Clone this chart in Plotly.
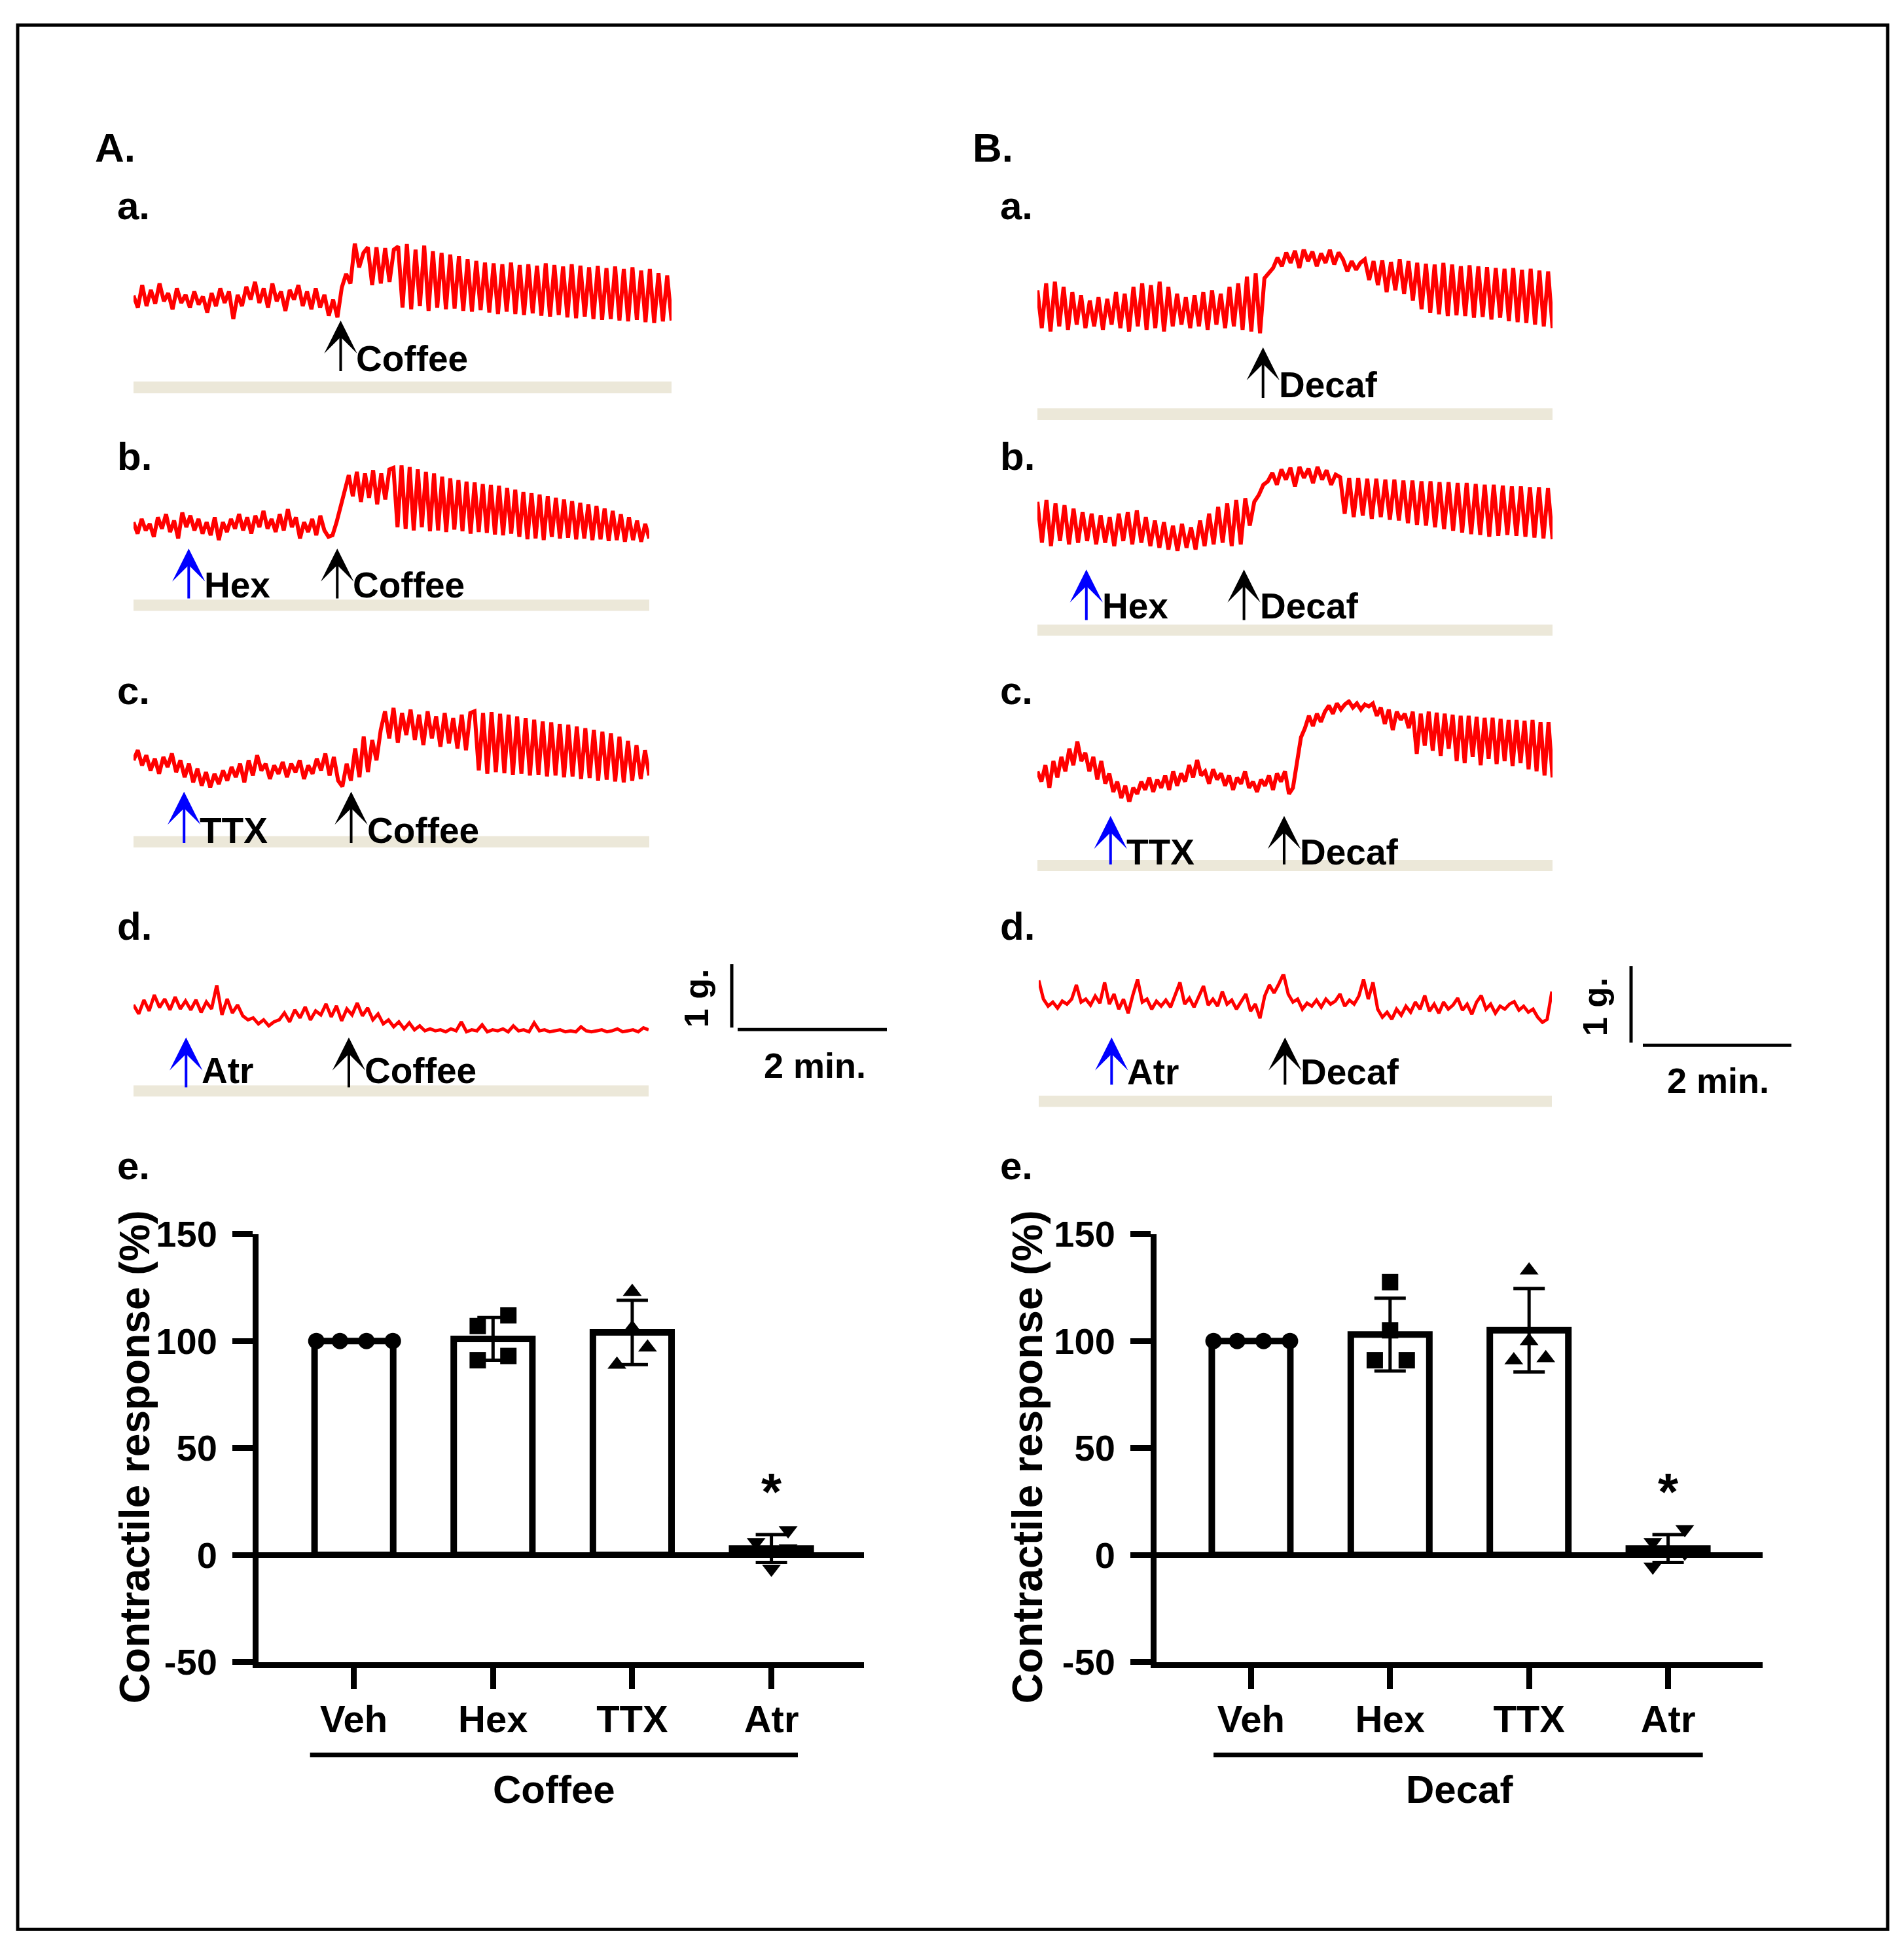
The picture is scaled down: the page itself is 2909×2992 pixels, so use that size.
import plotly.graph_objects as go

W, H = 2909, 2992          # browser window
PAD = 8                    # default body margin of the page
FW, FH = W - 2 * PAD, H - 2 * PAD
V_OFF, V_SCALE = 35.0, 0.9775   # vertical squeeze seen in the rendered page
FONT = 'Liberation Sans, Arial, sans-serif'
RED = '#FF0000'
BLUE = '#0000FF'
BEIGE = '#ECE8D9'

# Isometric force recordings, % of each panel's height, evenly sampled in time
coffee_ctrl = [35, 20, 48, 22, 42, 25, 50, 28, 38, 18, 44, 26, 36, 20, 40, 24, 34, 14, 38, 22,
               44, 26, 40, 6, 36, 22, 46, 30, 52, 26, 44, 20, 50, 28, 40, 16, 42, 30, 48, 22,
               40, 18, 44, 20, 36, 10, 30,
               8, 45, 62, 50, 100, 70, 88,
               95, 48, 95, 50, 94, 52, 92,
               96, 20, 99, 18, 92, 22, 97, 16, 90, 20, 88, 18, 86, 19, 84, 16, 80, 15, 78, 17,
               76, 14, 75, 12, 74, 15, 76, 12, 73, 11, 74, 13, 72, 10, 75, 9, 73, 11, 71, 8,
               74, 7, 72, 9, 70, 6, 72, 5, 69, 6, 71, 4, 68, 3, 70, 5, 66, 2, 68, 1, 63, 3, 60, 4]
coffee_hex = [30, 16, 34, 20, 28, 12, 36, 22, 40, 18, 32, 10, 42, 24, 38, 20, 34, 16, 30, 14,
              36, 8, 30, 18, 34, 22, 40, 20, 36, 16, 38, 24, 44, 22, 34, 18, 40, 20, 46, 24,
              36, 10, 30, 18, 34, 14, 38, 20, 12,
              14, 30, 48, 70,
              88, 62, 92, 55, 90, 60, 94, 52, 90, 58, 95,
              97, 24, 100, 22, 98, 20, 95, 24, 92, 19, 90, 20, 86, 18, 84, 21, 82, 19, 80, 16,
              79, 18, 77, 17, 76, 15, 75, 14, 72, 16, 70, 12, 67, 9, 66, 10, 64, 8, 62, 12,
              60, 10, 58, 11, 56, 9, 54, 10, 52, 8, 50, 9, 47, 7, 44, 8, 40, 6, 36, 8, 32, 6, 28, 10]
coffee_ttx = [34, 46, 28, 40, 22, 36, 18, 38, 26, 42, 20, 34, 14, 30, 8, 24, 4, 20, 2, 18,
              6, 22, 10, 26, 14, 30, 8, 34, 16, 40, 22, 30, 12, 28, 18, 32, 14, 30, 20, 34,
              12, 28, 18, 36, 22, 42, 16, 38, 10, 3,
              30, 10, 48, 14, 62, 20, 58, 34,
              70, 92, 60, 96, 55, 90, 64, 94, 58, 88, 52, 92, 60, 86, 50, 90, 54, 84, 48, 88, 46, 90,
              92, 22, 90, 18, 91, 20, 89, 19, 88, 17, 86, 18, 84, 16, 82, 17, 80, 15, 79, 16,
              77, 14, 76, 15, 74, 12, 72, 13, 70, 10, 68, 11, 66, 9, 62, 8, 57, 10, 52, 12, 46, 16]
coffee_atr = [60, 42, 70, 48, 80, 55, 72, 50, 76, 52, 68,
              50, 70, 45, 66, 52, 100, 40, 72, 44, 60,
              38, 30, 34, 22, 30, 18, 26,
              30, 44, 26, 50, 34, 56, 30, 48, 40, 62, 36, 58, 28, 52, 40,
              64, 38, 54, 30, 42, 22, 30, 16, 26, 12, 24, 10, 18, 8, 12,
              8, 10, 6, 12, 8, 26, 6, 10, 8, 20, 6, 10, 8, 12, 6, 18, 8, 10, 6, 24,
              8, 10, 6, 8, 10, 6, 8, 6, 16, 8, 6, 8, 10, 6, 8, 12, 6, 8, 10, 6, 14, 10]
decaf_ctrl = [52, 8, 60, 4, 62, 10, 56, 6, 50, 12, 46, 8, 40, 10, 44, 6, 42, 12, 50, 8,
              48, 4, 56, 10, 60, 6, 58, 8, 62, 4, 56, 10, 48, 12, 44, 8, 46, 10, 50, 6,
              52, 12, 48, 8, 56, 10, 60, 6, 68, 4, 72, 2, 66,
              72, 78,
              90, 80, 96, 84, 98, 78, 100, 86, 97, 80, 95, 84, 99, 82, 96,
              88, 74, 86, 76, 84,
              88, 64, 86, 58, 87, 50, 85, 52, 88, 48, 86, 40, 84, 30, 83, 26, 82, 24, 84, 22,
              82, 23, 80, 22, 81, 20, 80, 21, 79, 18, 78, 20, 77, 16, 78, 15, 76, 14, 77, 12,
              75, 10, 74, 8]
decaf_hex = [58, 10, 60, 6, 56, 12, 54, 8, 50, 10, 46, 12, 44, 8, 42, 10, 40, 6, 44, 12,
             46, 8, 48, 10, 40, 6, 36, 4, 34, 2, 30, 0, 32, 4, 28, 2, 36, 6, 44, 8,
             52, 10, 56, 6, 60, 8, 62,
             30, 58, 66, 78,
             82, 92, 78, 96, 84, 98, 76, 99, 86, 97, 80, 99, 84, 95, 78, 90,
             87, 44, 86, 40, 86, 42, 85, 38, 85, 40, 84, 37, 84, 36, 83, 33, 83, 31, 82, 30,
             82, 28, 81, 26, 81, 24, 80, 22, 80, 20, 79, 19, 78, 17, 78, 18, 77, 19, 76, 18,
             76, 17, 75, 16, 75, 15, 74, 14]
decaf_ttx = [30, 20, 36, 14, 40, 24, 44, 30, 52, 36, 59, 40, 48, 30, 44, 22, 40, 18, 28, 10,
             20, 4, 16, 0, 14, 8, 20, 12, 24, 10, 22, 14, 26, 12, 30, 16, 28, 20, 36, 24,
             41, 26, 30, 18, 32, 22, 28, 16, 26, 12, 24, 18, 30, 14, 20, 10, 22, 16, 26, 12,
             28, 20, 30, 8, 14,
             40, 63,
             72, 84, 74, 86, 78,
             88, 94, 86, 96, 90, 95, 98, 92, 96, 90, 95, 93, 96,
             84, 92, 76, 90, 70, 88, 80, 86, 72,
             88, 47, 86, 55, 88, 50, 87, 45, 86, 52, 85, 40, 84, 38, 84, 44, 83, 36, 82, 42,
             82, 37, 81, 40, 80, 35, 80, 38, 79, 32, 80, 30, 78, 26, 78, 24]
decaf_atr = [87, 50, 36, 44, 32, 46, 40, 50, 78, 44, 50, 38, 56, 42, 83, 40, 60, 30, 50, 22,
             58, 89, 44, 50, 30, 46, 36, 48, 34, 60, 83, 40, 52, 34, 56, 76, 38, 50, 36, 65,
             40, 48, 30, 44, 60, 26, 40, 12, 56, 78, 62, 80, 100, 60, 44, 50, 30, 42, 36, 48,
             34, 50, 40, 46, 60, 36, 48, 40, 56, 89, 50, 83, 30, 14, 24, 10, 30, 18, 36, 24,
             44, 30, 57, 26, 40, 22, 44, 30, 38, 52, 28, 40, 20, 44, 57, 30, 40, 22, 36, 30,
             40, 45, 28, 36, 24, 30, 14, 4, 10, 65]

# drug additions, as fraction of the recording length
coffee_events = [[('Coffee', 0.385)], [('Hex', 0.107), ('Coffee', 0.395)],
                 [('TTX', 0.098), ('Coffee', 0.422)], [('Atr', 0.102), ('Coffee', 0.418)]]
decaf_events = [[('Decaf', 0.438)], [('Hex', 0.095), ('Decaf', 0.401)],
                [('TTX', 0.142), ('Decaf', 0.479)], [('Atr', 0.142), ('Decaf', 0.480)]]

# summary (e.)
categories = ['Veh', 'Hex', 'TTX', 'Atr']
coffee_mean = [100, 101, 104, 3]
coffee_sd = [0, 10, 15, 6.5]
coffee_pts = [[100, 100, 100, 100], [107, 112, 91, 93], [123, 106, 97, 89], [6, 11.5, 3, -6.5]]
decaf_mean = [100, 103, 105, 3]
decaf_sd = [0, 17, 19.5, 6.5]
decaf_pts = [[100, 100, 100, 100], [127.5, 105, 91, 91], [133, 100, 91, 92], [6, 12, 1, -5.5]]
y_ticks = [-50, 0, 50, 100, 150]
y_ticktext = ['-50', '0', '50', '100', '150']

# ---------------- layout geometry (page pixels) ----------------
boxes = [(204, 1026, 375, 498), (204, 992, 714, 838), (204, 992, 1079, 1208), (204, 991, 1507, 1583),
         (1585, 2372, 384, 515), (1585, 2372, 715, 845), (1585, 2372, 1071, 1228), (1587, 2371, 1490, 1567)]
bands = [(586, 604), (919, 936), (1280, 1297), (1660, 1677),
         (627, 645), (957, 974), (1316, 1333), (1676, 1693)]
arrow_rows = [(493, 570, 551), (841, 917, 897), (1212, 1290, 1271), (1587, 1663, 1638),
              (534, 611, 591), (873, 950, 929), (1249, 1323, 1304), (1587, 1659, 1640)]
veh_jit = [-0.27, -0.10, 0.09, 0.28]
jitter_coffee = [veh_jit, [-0.11, 0.11, -0.11, 0.11], [0, 0, 0.11, -0.11], [-0.11, 0.12, 0.12, 0]]
jitter_decaf = [veh_jit, [0, 0, -0.11, 0.12], [0, 0, -0.11, 0.12], [-0.11, 0.12, 0.12, -0.11]]
symbols = ['circle', 'square', 'triangle-up', 'triangle-down']


def px(x):
    return (x - PAD) / FW


def py(y):
    y = (y - V_OFF) / V_SCALE
    return 1 - (y - PAD) / FH


def names(n):
    if n == 1:
        return 'x', 'y', 'xaxis', 'yaxis'
    return f'x{n}', f'y{n}', f'xaxis{n}', f'yaxis{n}'


def note(x, y, text, size, **kw):
    d = dict(x=px(x), y=py(y), xref='paper', yref='paper', text=f'<b>{text}</b>',
             showarrow=False, xanchor='center', yanchor='middle', font=dict(size=size))
    d.update(kw)
    return d


fig = go.Figure()
layout = {}
shapes = []
annotations = []

recordings = [coffee_ctrl, coffee_hex, coffee_ttx, coffee_atr,
              decaf_ctrl, decaf_hex, decaf_ttx, decaf_atr]
events = coffee_events + decaf_events

for i, rec in enumerate(recordings):
    n = i + 1
    xn, yn, xk, yk = names(n)
    x0, x1, top, bottom = boxes[i]
    last = len(rec) - 1
    fig.add_trace(go.Scatter(
        x=list(range(len(rec))), y=rec, mode='lines',
        line=dict(color=RED, width=5 if i % 4 == 3 else 6),
        xaxis=xn, yaxis=yn, showlegend=False, hoverinfo='skip'))
    layout[xk] = dict(domain=[px(x0), px(x1)], range=[0, last], visible=False, anchor=yn)
    layout[yk] = dict(domain=[py(bottom), py(top)], range=[0, 100], visible=False, anchor=xn)

    b0, b1 = bands[i]
    shapes.append(dict(type='rect', xref=xn, yref='paper', x0=0, x1=last,
                       y0=py(b1), y1=py(b0), fillcolor=BEIGE, line_width=0, layer='below'))

    head, tail, label_y = arrow_rows[i]
    for label, frac in events[i]:
        xi = frac * last
        color = 'black' if label in ('Coffee', 'Decaf') else BLUE
        annotations.append(dict(x=xi, xref=xn, y=py(head), yref='paper', ax=0,
                                ay=(tail - head) / V_SCALE,
                                text='', showarrow=True, arrowhead=3, arrowsize=2.1,
                                arrowwidth=4, arrowcolor=color, standoff=0, font=dict(size=1)))
        annotations.append(dict(x=xi, xref=xn, y=py(label_y), yref='paper', text=f'<b>{label}</b>',
                                showarrow=False, xanchor='left', yanchor='middle', xshift=22,
                                font=dict(size=55, color='black')))

# panel letters
for text, x, y in [('A.', 143, 229), ('B.', 1484, 229)]:
    annotations.append(note(x, y, text, 62, xanchor='left'))
for left in (177, 1526):
    for text, y in zip(['a.', 'b.', 'c.', 'd.', 'e.'], [318, 700, 1058, 1417, 1783]):
        annotations.append(note(left, y, text, 60, xanchor='left'))

# calibration bars
for vx, vy0, vy1, hx0, hx1, hy, gx, gy, mx, my in [
        (1118, 1475, 1572, 1127, 1355, 1575, 1064, 1527, 1245, 1630),
        (2492, 1478, 1595, 2510, 2737, 1599, 2437, 1540, 2625, 1653)]:
    shapes.append(dict(type='line', xref='paper', yref='paper', x0=px(vx), x1=px(vx),
                       y0=py(vy0), y1=py(vy1), line=dict(color='black', width=5)))
    shapes.append(dict(type='line', xref='paper', yref='paper', x0=px(hx0), x1=px(hx1),
                       y0=py(hy), y1=py(hy), line=dict(color='black', width=5)))
    annotations.append(note(gx, gy, '1 g.', 52, textangle=-90))
    annotations.append(note(mx, my, '2 min.', 54))

# summary bar charts
bar_specs = [
    (9, 395, 1320, [-0.685, 3.665], coffee_mean, coffee_sd, coffee_pts, jitter_coffee,
     'Coffee', (-0.315, 3.19), 1.44, 206),
    (10, 1767, 2693, [-0.68, 3.68], decaf_mean, decaf_sd, decaf_pts, jitter_decaf,
     'Decaf', (-0.27, 3.25), 1.5, 1570),
]
for n, x0, x1, xr, mean, sd, pts, jit, group, uline, gx, title_x in bar_specs:
    xn, yn, xk, yk = names(n)
    fig.add_trace(go.Bar(
        x=list(range(len(categories))), y=mean, width=0.565,
        marker=dict(color='white', line=dict(color='black', width=10)),
        error_y=dict(type='data', array=sd, visible=True, color='black', thickness=5, width=24),
        xaxis=xn, yaxis=yn, showlegend=False, hoverinfo='skip'))
    for ci, vals in enumerate(pts):
        fig.add_trace(go.Scatter(
            x=[ci + o for o in jit[ci]], y=vals, mode='markers',
            marker=dict(symbol=symbols[ci], size=25, color='black'),
            xaxis=xn, yaxis=yn, showlegend=False, hoverinfo='skip', cliponaxis=False))
    layout[xk] = dict(domain=[px(x0), px(x1)], range=xr, anchor=yn,
                      tickvals=list(range(len(categories))), ticktext=categories,
                      ticks='outside', ticklen=32, tickwidth=9, tickcolor='black',
                      showline=True, linewidth=9, linecolor='black', showgrid=False, zeroline=False,
                      ticklabelstandoff=-3,
                      tickfont=dict(size=58, color='black', weight='bold'))
    layout[yk] = dict(domain=[py(2540), py(1887)], range=[-50, 150], anchor=xn,
                      tickvals=y_ticks, ticktext=y_ticktext, ticks='outside', ticklen=31, tickwidth=9,
                      tickcolor='black', showline=True, linewidth=9, linecolor='black',
                      showgrid=False, zeroline=True, zerolinewidth=9, zerolinecolor='black',
                      ticklabelstandoff=12,
                      tickfont=dict(size=56, color='black', weight='bold'))
    shapes.append(dict(type='line', xref=xn, yref='paper', x0=uline[0], x1=uline[1],
                       y0=py(2682), y1=py(2682), line=dict(color='black', width=7)))
    annotations.append(dict(x=gx, xref=xn, y=py(2735), yref='paper', text=f'<b>{group}</b>',
                            showarrow=False, xanchor='center', yanchor='middle', font=dict(size=60)))
    annotations.append(dict(x=3, xref=xn, y=py(2268), yref='paper', text='<b>*</b>', showarrow=False,
                            xanchor='center', yanchor='middle', yshift=-12, font=dict(size=80)))
    annotations.append(note(title_x, 2227, 'Contractile response (%)', 64, textangle=-90))

# outer frame
shapes.append(dict(type='rect', xref='paper', yref='paper', x0=px(27), x1=px(2884),
                   y0=py(2948), y1=py(42), line=dict(color='black', width=5)))

fig.update_layout(
    width=FW, height=FH,
    margin=dict(l=0, r=0, t=0, b=0),
    paper_bgcolor='white', plot_bgcolor='white',
    font=dict(family=FONT, color='black'),
    shapes=shapes, annotations=annotations,
    **layout
)

fig.write_html("out.html")
